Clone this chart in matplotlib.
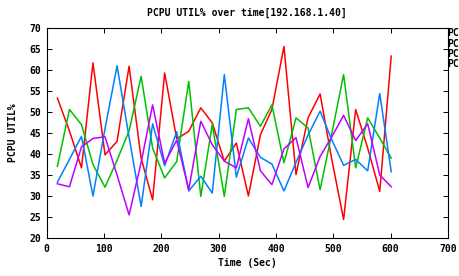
import matplotlib
matplotlib.use('Agg')
import matplotlib.pyplot as plt

# sample times (sec)
times = [19, 40, 61, 81, 102, 123, 144, 165, 185, 206, 227, 248, 269, 289, 310,
         331, 352, 373, 393, 414, 435, 456, 477, 497, 518, 539, 560, 581, 601]

# PCPU util% per cpu
pcpu0 = [53.3, 45.5, 36.7, 61.7, 39.8, 43.0, 60.9, 39.0, 29.1, 59.3, 43.6, 45.4, 51.0, 47.4, 38.3,
         42.6, 30.0, 44.6, 50.6, 65.6, 35.1, 48.6, 54.3, 39.0, 24.4, 50.6, 41.4, 31.1, 63.3]
pcpu1 = [37.1, 50.6, 47.0, 37.5, 32.1, 38.5, 45.5, 58.5, 41.4, 34.3, 38.2, 57.3, 29.9, 47.0, 29.9,
         50.6, 51.0, 46.6, 51.7, 37.9, 48.6, 46.2, 31.5, 44.6, 58.9, 36.7, 48.6, 43.8, 39.0]
pcpu2 = [33.3, 38.7, 44.2, 30.0, 46.0, 61.0, 44.0, 27.5, 47.2, 37.2, 45.3, 31.2, 34.7, 30.7, 58.9,
         34.5, 43.8, 39.2, 37.6, 31.2, 38.0, 44.5, 50.2, 43.5, 37.3, 38.7, 36.0, 54.4, 35.8]
pcpu3 = [32.9, 32.2, 41.7, 43.7, 44.1, 35.0, 25.5, 38.0, 51.7, 37.8, 43.3, 31.5, 47.8, 42.2, 38.3,
         36.7, 48.4, 36.0, 32.7, 41.2, 43.9, 32.0, 39.4, 44.0, 49.2, 43.2, 47.2, 35.0, 32.2]

# legend entries, only the visible part shows in the original
series_names = ['PC', 'PC', 'PC', 'PC']
series_colors = ['#ff0000', '#00c000', '#0080ff', '#c000ff']

plt.rcParams['font.family'] = 'DejaVu Sans Mono'
plt.rcParams['font.weight'] = 'bold'
plt.rcParams['font.size'] = 7

fig = plt.figure(figsize=(4.59, 2.76), dpi=100)
ax = fig.add_axes([46.5 / 459, 1 - 238 / 276, (448 - 46.5) / 459, 210 / 276])

for vals, color in zip([pcpu0, pcpu1, pcpu2, pcpu3], series_colors):
    ax.plot(times, vals, color=color, linewidth=1.1)

ax.set_xlim(0, 700)
ax.set_ylim(20, 70)
ax.set_xticks(range(0, 701, 100))
ax.set_yticks(range(20, 71, 5))
ax.tick_params(direction='in', length=3.5, width=0.7, top=True, right=True, pad=4,
               labelsize=7)
for sp in ax.spines.values():
    sp.set_linewidth(0.8)

ax.set_title('PCPU UTIL% over time[192.168.1.40]', fontsize=7, fontweight='bold', pad=9)
ax.set_xlabel('Time (Sec)', fontsize=7, fontweight='bold', labelpad=3)
ax.set_ylabel('PCPU UTIL%', fontsize=7, fontweight='bold', labelpad=8)

# legend text outside the plot at the right edge
for i, name in enumerate(series_names):
    fig.text(447.5 / 459, 1 - (33.5 + 10.2 * i) / 276, name, ha='left', va='center',
             fontsize=7, fontweight='bold')

fig.savefig('out.png', dpi=100)
